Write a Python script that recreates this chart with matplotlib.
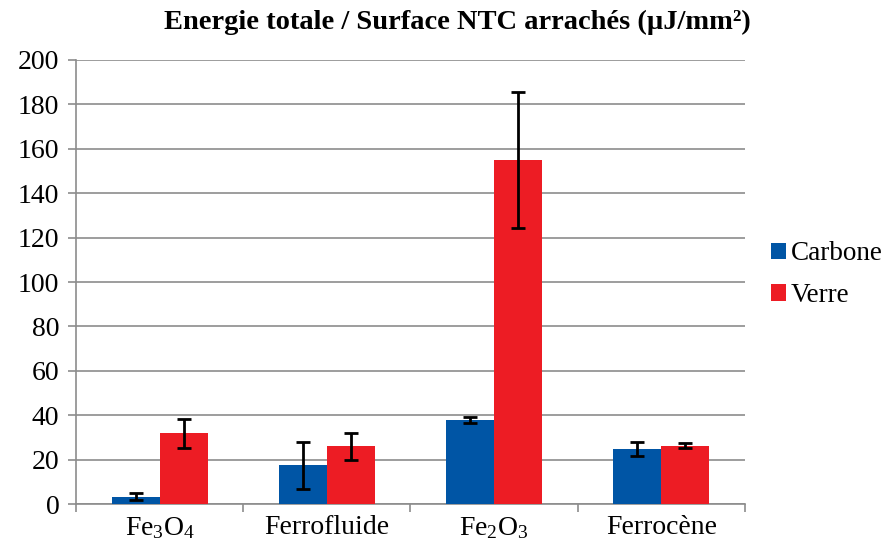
import numpy as np
import matplotlib
matplotlib.use('Agg')
from matplotlib import pyplot as plt

plt.rcParams['font.family'] = 'serif'
plt.rcParams['font.serif'] = ['Liberation Serif', 'DejaVu Serif']
plt.rcParams['mathtext.fontset'] = 'custom'
plt.rcParams['mathtext.rm'] = 'Liberation Serif'
plt.rcParams['mathtext.it'] = 'Liberation Serif:italic'

# Energie / surface pour chaque catalyseur
categories = [r'Fe$_3$O$_4$', 'Ferrofluide', r'Fe$_2$O$_3$', 'Ferrocène']
carbone = [3.3, 17.4, 37.8, 24.6]
carbone_err = [1.5, 10.6, 1.5, 3.2]
verre = [31.8, 26.0, 155.0, 26.3]
verre_err = [6.6, 6.0, 30.7, 1.1]

bleu = '#0055A5'
rouge = '#ED1C24'
gris = '#8C8C8C'

fig = plt.figure(figsize=(8.92, 5.42), dpi=100)
ax = fig.add_axes([0.0852, 0.0701, 0.7500, 0.8192])

x = np.arange(len(categories))
largeur = 0.287

err_style = dict(ecolor='black', elinewidth=2, capsize=5, capthick=2)
ax.bar(x - largeur / 2, carbone, largeur, color=bleu, label='Carbone',
       yerr=carbone_err, error_kw=err_style, zorder=3)
ax.bar(x + largeur / 2, verre, largeur, color=rouge, label='Verre',
       yerr=verre_err, error_kw=err_style, zorder=3)

ax.set_ylim(0, 200)
ax.set_yticks(range(0, 201, 20))
ax.set_xlim(-0.5, len(categories) - 0.5)
ax.set_xticks(x)
ax.set_xticklabels(categories)
ax.set_xticks(np.arange(-0.5, len(categories)), minor=True)

ax.yaxis.grid(True, color=gris, linewidth=1.2, zorder=0)
ax.set_axisbelow(True)
for cote in ['top', 'right']:
    ax.spines[cote].set_visible(False)
for cote in ['left', 'bottom']:
    ax.spines[cote].set_color(gris)
    ax.spines[cote].set_linewidth(1.2)

ax.tick_params(axis='y', length=6, color=gris, width=1.2, labelsize=20, pad=6)
ax.tick_params(axis='x', which='major', length=0, labelsize=20, pad=8)
ax.tick_params(axis='x', which='minor', length=6, color=gris, width=1.2)

# titre centré sur toute la zone du graphique (légende comprise)
fig.text(0.513, 0.958, 'Energie totale / Surface NTC arrachés (µJ/mm²)',
         fontsize=20.5, fontweight='bold', ha='center', va='center')

ax.legend(loc='center left', bbox_to_anchor=(0.864, 0.493),
          bbox_transform=fig.transFigure, frameon=False,
          fontsize=19.5, handlelength=0.55, handleheight=0.55,
          handletextpad=0.2, labelspacing=0.62, borderpad=0, borderaxespad=0)

plt.savefig('out.png', dpi=100)
